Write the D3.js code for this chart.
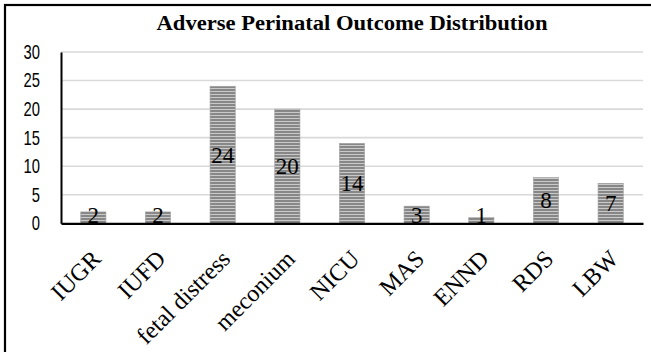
<!DOCTYPE html>
<html>
<head>
<meta charset="utf-8">
<script src="https://cdn.jsdelivr.net/npm/d3@7/dist/d3.min.js"></script>
<style>
  html, body { margin: 0; padding: 0; background: #fff; }
  svg { display: block; }
</style>
</head>
<body>
<svg id="chart" width="651" height="352"></svg>
<script>
const categories = ["IUGR", "IUFD", "fetal distress", "meconium", "NICU", "MAS", "ENND", "RDS", "LBW"];
const values = [2, 2, 24, 20, 14, 3, 1, 8, 7];
const yTicks = [0, 5, 10, 15, 20, 25, 30];
const title = "Adverse Perinatal Outcome Distribution";

(function () {
const svg = d3.select("#chart");
const W = 651, H = 352;
const mLeft = 61, mRight = 643, mTop = 52, mBottom = 223.3;

svg.append("rect").attr("width", W).attr("height", H).attr("fill", "#fff");

// stripe pattern
const defs = svg.append("defs");
const pat = defs.append("pattern").attr("id", "stripes")
  .attr("patternUnits", "userSpaceOnUse").attr("width", 8).attr("height", 3);
pat.append("rect").attr("width", 8).attr("height", 3).attr("fill", "#878787");
pat.append("rect").attr("y", 1).attr("width", 8).attr("height", 1).attr("fill", "#c9c9c9");

// outer border (only top/left visible)
svg.append("rect").attr("x", 5).attr("y", 5).attr("width", 700).attr("height", 400)
  .attr("fill", "none").attr("stroke", "#000").attr("stroke-width", 2.2);

svg.append("text").attr("x", 352).attr("y", 30).attr("text-anchor", "middle")
  .attr("font-family", "Liberation Serif, serif").attr("font-weight", "bold")
  .attr("font-size", 20).attr("textLength", 391).attr("lengthAdjust", "spacingAndGlyphs")
  .text(title);

const x = d3.scaleBand().domain(categories).range([mLeft, mRight]).paddingInner(0.61).paddingOuter(0.305);
const y = d3.scaleLinear().domain([0, 30]).range([mBottom, mTop]);

// gridlines
svg.append("g").selectAll("line").data(yTicks.filter(d => d > 0)).join("line")
  .attr("x1", mLeft).attr("x2", mRight).attr("y1", d => y(d)).attr("y2", d => y(d))
  .attr("stroke", "#d9d9d9").attr("stroke-width", 1.6);

// y axis
const sx = 0.74;
const yAxis = svg.append("g").attr("transform", `translate(${mLeft},0)`)
  .call(d3.axisLeft(y).tickValues(yTicks).tickSize(0).tickPadding(21));
yAxis.select(".domain").attr("stroke", "#000").attr("stroke-width", 2);
yAxis.selectAll("text").attr("font-family", "Liberation Sans, sans-serif")
  .attr("font-size", 20).attr("fill", "#000")
  .attr("x", -21 / sx).attr("transform", `scale(${sx},1)`);

// bars
svg.append("g").selectAll("rect").data(values).join("rect")
  .attr("x", (d, i) => x(categories[i])).attr("width", x.bandwidth())
  .attr("y", d => y(d)).attr("height", d => y(0) - y(d))
  .attr("fill", "url(#stripes)").attr("stroke", "#a0a0a0").attr("stroke-width", 0.6);

// value labels
svg.append("g").selectAll("text").data(values).join("text")
  .attr("x", (d, i) => x(categories[i]) + x.bandwidth() / 2)
  .attr("y", d => Math.min((y(d) + y(0)) / 2, y(0) - 8)).attr("dy", "0.34em")
  .attr("text-anchor", "middle").attr("font-family", "Liberation Serif, serif")
  .attr("font-size", 23).attr("fill", "#000").text(d => d);

// x axis
const xAxis = svg.append("g").attr("transform", `translate(0,${mBottom})`)
  .call(d3.axisBottom(x).tickSize(0).tickPadding(0));
xAxis.select(".domain").attr("stroke", "#000").attr("stroke-width", 2.2);
xAxis.selectAll("text")
  .attr("font-family", "Liberation Serif, serif").attr("font-size", 24).attr("fill", "#000")
  .attr("text-anchor", "end").attr("dy", null).attr("y", null)
  .attr("transform", "translate(9,37) rotate(-45)");
})();
</script>
</body>
</html>
